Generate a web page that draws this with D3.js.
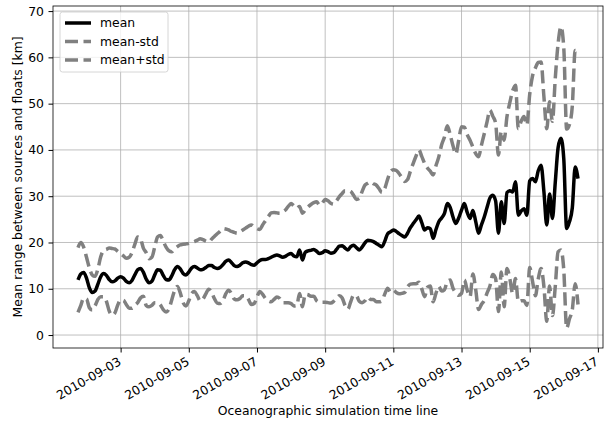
<!DOCTYPE html>
<html>
<head>
<meta charset="utf-8">
<script src="https://cdn.jsdelivr.net/npm/d3@7"></script>
<style>
  body { margin: 0; background: #fff; }
  svg { display: block; font-family: "DejaVu Sans", sans-serif; }
</style>
</head>
<body>
<svg id="chart" width="606" height="426"></svg>
<script>
// samples every 2 hours, first one at 2010-09-01 18:00 UTC
var startTime = Date.UTC(2010, 8, 1, 18);
var stepHours = 2;

// mean range [km]
var meanValues = [
  11.9, 13.2, 13.5, 12.3, 10.2, 9.2, 9.5, 11.0, 12.6, 13.3,
  12.9, 12.0, 11.5, 11.7, 12.3, 12.6, 12.3, 11.6, 11.3, 11.8,
  13.0, 14.1, 14.4, 13.6, 12.1, 11.3, 11.6, 13.0, 14.1, 14.0,
  12.9, 12.0, 11.9, 12.8, 14.1, 14.8, 14.3, 13.3, 13.0, 13.6,
  14.5, 14.8, 14.5, 14.1, 14.2, 14.6, 15.0, 15.0, 14.6, 14.4,
  14.6, 15.2, 15.9, 16.2, 15.7, 15.0, 14.8, 15.1, 15.6, 15.8,
  15.6, 15.2, 15.1, 15.6, 16.1, 16.3, 16.3, 16.5, 16.8, 17.1,
  17.3, 17.1, 16.8, 17.0, 17.4, 17.6, 17.1, 16.9, 18.4, 16.2,
  17.9, 18.2, 18.3, 18.5, 18.1, 17.6, 17.8, 18.2, 18.0, 17.7,
  17.8, 18.5, 19.2, 19.3, 18.8, 18.4, 19.1, 19.4, 18.9, 18.4,
  19.0, 19.9, 20.5, 20.4, 20.2, 19.8, 19.4, 19.1, 20.3, 21.9,
  22.3, 22.7, 22.4, 21.9, 21.5, 21.2, 22.0, 23.2, 24.1, 24.9,
  25.7, 24.3, 22.7, 23.2, 23.0, 20.9, 22.8, 24.5, 25.3, 26.3,
  28.4, 27.6, 25.5, 24.1, 25.3, 27.0, 28.4, 26.5, 25.2, 26.9,
  24.5, 22.0, 23.8, 25.5, 27.6, 29.6, 30.2, 29.0, 22.0, 28.8,
  24.1, 30.8, 31.2, 30.9, 33.1, 25.9, 26.8, 27.3, 25.9, 33.3,
  33.8, 33.1, 35.5, 36.7, 31.0, 23.8, 30.5, 25.2, 33.0, 40.5,
  42.5, 38.0, 23.0, 24.5, 27.5, 36.3, 33.8
];

// standard deviation [km]
var stdValues = [
  7.0, 6.8, 5.5, 4.5, 4.3, 3.8, 3.2, 3.3, 4.3, 5.0,
  5.6, 6.8, 7.2, 6.9, 5.8, 5.0, 4.8, 5.0, 5.5, 6.0,
  6.6, 7.1, 6.4, 5.2, 5.7, 5.2, 5.2, 6.0, 7.1, 7.5,
  7.4, 7.0, 6.3, 5.2, 4.5, 4.3, 5.2, 6.3, 6.7, 6.2,
  5.5, 5.4, 6.0, 6.7, 6.4, 5.7, 5.1, 5.7, 6.7, 7.5,
  7.8, 7.8, 7.0, 6.5, 6.7, 7.2, 7.2, 7.2, 7.1, 7.3,
  7.9, 8.6, 8.3, 7.4, 6.7, 7.5, 8.4, 9.1, 9.6, 9.4,
  9.1, 9.2, 9.8, 10.0, 10.4, 10.8, 10.8, 10.5, 9.4, 10.1,
  9.1, 9.5, 9.9, 10.1, 10.7, 10.5, 10.7, 11.1, 11.0, 10.8,
  10.5, 10.5, 10.7, 11.3, 12.4, 12.8, 11.9, 10.8, 10.4, 11.1,
  12.0, 12.5, 12.3, 12.7, 12.5, 12.6, 12.2, 11.7, 11.4, 11.8,
  13.0, 13.0, 13.2, 13.0, 12.5, 12.0, 11.6, 12.2, 13.0, 13.8,
  14.3, 14.3, 14.4, 12.9, 12.4, 13.7, 13.8, 14.0, 15.8, 16.5,
  16.8, 15.7, 15.4, 15.0, 16.7, 18.0, 16.5, 16.8, 16.9, 13.7,
  14.7, 16.5, 17.2, 18.0, 18.5, 19.0, 17.1, 16.8, 16.9, 15.2,
  18.0, 16.4, 19.0, 21.9, 20.9, 18.7, 19.4, 19.9, 19.5, 18.7,
  22.2, 24.6, 23.4, 22.3, 20.5, 20.8, 19.9, 21.0, 22.5, 22.5,
  24.1, 24.0, 21.5, 21.0, 22.0, 25.2, 27.2
];

var seriesNames = ["mean", "mean-std", "mean+std"];
var yTicks = [0, 10, 20, 30, 40, 50, 60, 70];
var xTickDates = ["2010-09-03", "2010-09-05", "2010-09-07", "2010-09-09",
                  "2010-09-11", "2010-09-13", "2010-09-15", "2010-09-17"];

// rows for d3
var rows = meanValues.map(function(m, i) {
    return {
        t: new Date(startTime + i * stepHours * 3600 * 1000),
        mean: m,
        lo: m - stdValues[i],
        hi: m + stdValues[i]
    };
});

var svg = d3.select("#chart");
var plotLeft = 53, plotRight = 603, plotTop = 6, plotBottom = 348;
var fontSize = "12.4px";

// matplotlib style 5% margins on x
var t0 = rows[0].t, t1 = rows[rows.length - 1].t;
var pad = (t1 - t0) * 0.05;
var x = d3.scaleUtc()
    .domain([new Date(+t0 - pad), new Date(+t1 + pad)])
    .range([plotLeft, plotRight]);

var y = d3.scaleLinear()
    .domain([-2.8, 71.1])
    .range([plotBottom, plotTop]);

var parseDay = d3.utcParse("%Y-%m-%d");
var xTicks = xTickDates.map(parseDay);

// grid
svg.append("g").selectAll("line")
    .data(xTicks).enter().append("line")
    .attr("x1", function(d) { return x(d); })
    .attr("x2", function(d) { return x(d); })
    .attr("y1", plotTop).attr("y2", plotBottom)
    .style("stroke", "#b0b0b0").style("stroke-width", 0.8);

svg.append("g").selectAll("line")
    .data(yTicks).enter().append("line")
    .attr("x1", plotLeft).attr("x2", plotRight)
    .attr("y1", function(d) { return y(d); })
    .attr("y2", function(d) { return y(d); })
    .style("stroke", "#b0b0b0").style("stroke-width", 0.8);

// lines
var plot = svg.append("g");
function lineOf(key) {
    return d3.line()
        .x(function(d) { return x(d.t); })
        .y(function(d) { return y(d[key]); })
        .curve(d3.curveMonotoneX);
}

plot.append("path").datum(rows)
    .attr("d", lineOf("mean"))
    .style("fill", "none").style("stroke", "black")
    .style("stroke-width", 3.5).style("stroke-linejoin", "round");

plot.append("path").datum(rows)
    .attr("d", lineOf("lo"))
    .style("fill", "none").style("stroke", "grey")
    .style("stroke-width", 3.5).style("stroke-dasharray", "13,5.5");

plot.append("path").datum(rows)
    .attr("d", lineOf("hi"))
    .style("fill", "none").style("stroke", "grey")
    .style("stroke-width", 3.5).style("stroke-dasharray", "13,5.5");

// axes frame
svg.append("rect")
    .attr("x", plotLeft).attr("y", plotTop)
    .attr("width", plotRight - plotLeft).attr("height", plotBottom - plotTop)
    .style("fill", "none").style("stroke", "black").style("stroke-width", 0.8);

// y axis
var yAxis = svg.append("g")
    .attr("transform", "translate(" + plotLeft + ",0)")
    .call(d3.axisLeft(y).tickValues(yTicks).tickSize(4.5).tickPadding(4.5));
yAxis.select(".domain").remove();
yAxis.selectAll("text").style("font-size", fontSize).style("fill", "black")
    .style("font-family", "DejaVu Sans");

// x axis
var xAxis = svg.append("g")
    .attr("transform", "translate(0," + plotBottom + ")")
    .call(d3.axisBottom(x).tickValues(xTicks).tickSize(4.5)
        .tickFormat(d3.utcFormat("%Y-%m-%d")));
xAxis.select(".domain").remove();
xAxis.selectAll("text")
    .style("font-size", fontSize).style("fill", "black")
    .style("font-family", "DejaVu Sans")
    .attr("text-anchor", "end")
    .attr("y", 0).attr("dy", 0)
    .attr("transform", "translate(1,16) rotate(-30)");

// axis labels
svg.append("text")
    .attr("x", (plotLeft + plotRight) / 2).attr("y", 415)
    .attr("text-anchor", "middle")
    .style("font-size", fontSize)
    .text("Oceanographic simulation time line");

svg.append("text")
    .attr("transform", "translate(22," + (plotTop + plotBottom) / 2 + ") rotate(-90)")
    .attr("text-anchor", "middle")
    .style("font-size", fontSize)
    .text("Mean range between sources and floats [km]");

// legend
var legend = svg.append("g").attr("transform", "translate(60,12)");
legend.append("rect")
    .attr("width", 108).attr("height", 60).attr("rx", 2.5)
    .style("fill", "white").style("fill-opacity", 0.8)
    .style("stroke", "#cccccc").style("stroke-width", 0.8);

var items = legend.selectAll("g.item")
    .data(seriesNames).enter().append("g")
    .attr("transform", function(d, i) { return "translate(0," + (11 + i * 18.5) + ")"; });

items.append("line")
    .attr("x1", 5).attr("x2", 31).attr("y1", 0).attr("y2", 0)
    .style("stroke", function(d, i) { return i === 0 ? "black" : "grey"; })
    .style("stroke-width", 3.5)
    .style("stroke-dasharray", function(d, i) { return i === 0 ? null : "13,5.5"; });

items.append("text")
    .attr("x", 40).attr("y", 0).attr("dy", "0.35em")
    .style("font-size", fontSize)
    .text(function(d) { return d; });
</script>
</body>
</html>
